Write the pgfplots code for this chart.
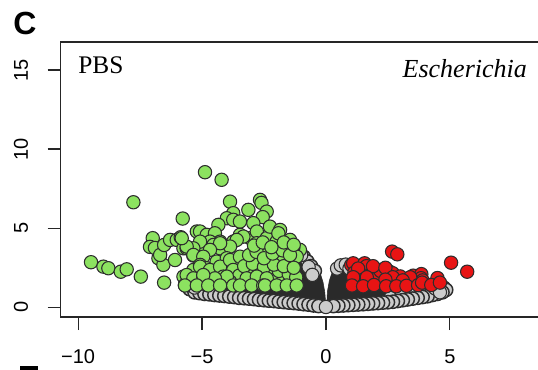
\documentclass[border=0pt]{standalone}
\usepackage{fontspec}
\setmainfont{Liberation Serif}
\setsansfont{Liberation Sans}
\usepackage{pgfplots}
\pgfplotsset{compat=1.18}
\definecolor{vgreen}{RGB}{140,226,96}
\definecolor{vred}{RGB}{232,20,20}
\definecolor{vgray}{RGB}{204,204,204}
\definecolor{vedge}{RGB}{45,45,45}
\definecolor{vdark}{RGB}{42,42,42}
\begin{document}
\begin{tikzpicture}
\useasboundingbox (0,0) rectangle (403.5pt,277.5pt);
\clip (0,0) rectangle (403.5pt,277.5pt);
\node[anchor=base west, inner sep=0pt, font=\sffamily\bfseries\fontsize{24}{24}\selectfont] at (9.75pt,251.5pt) {C};
\fill[black] (15pt,0pt) rectangle (28.5pt,3pt);
\begin{axis}[
  at={(45.4pt,39.75pt)}, anchor=south west,
  scale only axis, width=398.1pt, height=206.25pt,
  xmin=-10.71, xmax=10.71, ymin=-0.613, ymax=16.77,
  axis line style={line width=0.9pt, black!85},
  tick align=outside, major tick length=9.75pt,
  tick style={line width=0.9pt, black!85},
  xtick pos=lower, ytick pos=left,
  xtick={-10,-5,0,5}, xticklabels={−10,−5,0,5},
  ytick={0,5,10,15}, yticklabels={0,5,10,15},
  ticklabel style={font=\sffamily\fontsize{15}{15}\selectfont},
  yticklabel style={xshift=-11pt, rotate=90, anchor=south},
  xticklabel style={yshift=-11pt, anchor=north},
  mark size=5pt,
]
% gray (not significant), lower rows
\addplot[only marks, mark=*, mark options={fill=vgray, draw=vedge, line width=1.1pt}] coordinates {
(-5.4,1.3) (-5.2,1.15) (-5.0,1.1) (-4.8,1.05) (-4.6,1.0) (-4.4,0.95) (-4.2,0.9)
(-5.5,1.15) (-5.3,0.95) (-5.1,0.9) (-4.9,0.85) (-4.7,0.82) (-4.5,0.78) (-4.3,0.75) (-4.1,0.72) (-3.9,0.68) (-3.7,0.65) (-3.5,0.6) (-3.3,0.58) (-3.1,0.55) (-2.9,0.52) (-2.7,0.48) (-2.5,0.45) (-2.3,0.42) (-2.1,0.4) (-1.9,0.36) (-1.7,0.33) (-1.5,0.3) (-1.3,0.27) (-1.1,0.24) (-0.9,0.2) (-0.7,0.17) (-0.5,0.12) (-0.3,0.08)
(-0.9,3.2) (-0.75,2.9) (-0.6,2.6) (-0.45,2.3)
(4.75,1.25) (4.5,1.1) (4.2,1.0) (3.8,0.9) (3.4,0.8) (3.0,0.7) (2.6,0.6)
(4.85,1.1) (4.7,0.95) (4.5,0.85) (4.3,0.78) (4.1,0.7) (3.9,0.65) (3.7,0.6) (3.5,0.55) (3.3,0.5) (3.1,0.45) (2.9,0.4) (2.7,0.35) (2.5,0.32) (2.3,0.3) (2.1,0.27) (1.9,0.25) (1.7,0.22) (1.5,0.2) (1.3,0.18) (1.1,0.16) (0.9,0.14) (0.7,0.12) (0.5,0.1) (0.3,0.08)
};
% dense core of overlapping outlines
\addplot[fill=vdark, draw=vdark] coordinates {
(0,0.1) (-0.05,1.0) (-0.12,1.6) (-0.24,2.2) (-0.4,2.6) (-0.65,3.0) (-1.0,3.35) (-1.4,3.7) (-1.9,3.95) (-2.4,3.9) (-2.9,3.6) (-3.4,3.1) (-3.9,2.5) (-4.3,1.9) (-4.8,1.45) (-5.2,1.2)
(-5.2,0.88) (-4.5,0.74) (-3.5,0.57) (-2.5,0.42) (-1.5,0.27) (-0.9,0.17) (-0.5,0.09) (-0.2,0.05)
} -- cycle;
\addplot[fill=vdark, draw=vdark] coordinates {
(0.03,0.1) (0.06,1.0) (0.14,1.7) (0.25,2.2) (0.45,2.55) (0.75,2.8) (1.2,2.9) (2.0,2.65) (2.8,2.35) (3.5,2.1) (4.2,1.8) (4.6,1.5) (4.9,1.2)
(4.85,1.05) (4.5,0.82) (4.1,0.67) (3.7,0.57) (3.3,0.47) (2.9,0.37) (2.5,0.29) (1.9,0.22) (1.1,0.13) (0.5,0.07) (0.15,0.05)
} -- cycle;
% gray on top
\addplot[only marks, mark=*, mark options={fill=vgray, draw=vedge, line width=0.8pt}] coordinates {
(-1.0,3.3) (-0.7,2.55) (-0.55,2.05) (0.45,2.45) (0.6,2.65) (0.8,2.7) (0.95,2.45) (4.4,1.2) (4.6,0.95) (-5.3,1.25) (0,0.02)
};
% green (down)
\addplot[only marks, mark=*, mark options={fill=vgreen, draw=vedge, line width=0.8pt}] coordinates {
(-9.48,2.85) (-8.98,2.57) (-8.78,2.47) (-8.28,2.25) (-8.04,2.4) (-7.47,1.94) (-7.77,6.64) (-6.53,1.56) (-6.99,4.37) (-7.1,3.82) (-6.9,3.75) (-6.76,3.1) (-6.56,2.68) (-6.69,3.31) (-6.53,3.94) (-6.29,4.26) (-6.09,2.99) (-6.02,4.26) (-5.86,4.43) (-5.75,3.73) (-5.62,3.73) (-5.42,3.63) (-5.21,3.77) (-5.01,3.88) (-5.35,3.27) (-5.78,5.61) (-5.21,4.79) (-4.88,8.54) (-4.21,8.06) (-5.75,1.94) (-5.69,1.41) (-5.35,2.36) (-5.48,1.83) (-5.08,1.62) (-4.81,1.41)
(-3.87,6.68) (-2.66,6.79) (-2.6,6.6) (-3.13,6.16) (-2.39,6.05) (-3.74,5.95) (-2.55,5.7) (-4.0,5.63) (-3.74,5.53) (-4.34,5.21) (-2.93,5.32) (-3.47,5.42) (-5.08,4.79) (-4.81,4.58) (-4.48,4.68) (-4.27,4.15) (-4.68,4.15) (-5.08,4.15) (-5.35,3.73) (-5.62,3.84) (-5.82,4.37) (-5.35,3.31) (-4.54,3.94) (-4.27,3.73) (-3.74,4.15) (-3.47,4.58) (-3.06,4.37) (-2.79,4.79) (-2.39,4.37) (-2.26,5.1) (-1.85,4.89) (-1.45,4.26) (-1.99,4.15) (-2.79,4.05) (-1.05,3.63) (-1.32,3.73) (-1.58,3.42) (-1.18,3.2) (-3.33,4.47) (-3.6,4.26) (-3.87,3.84) (-4.27,4.05) (-4.68,3.63) (-4.95,3.2) (-1.92,4.68)
(-5.08,2.68) (-4.81,2.47) (-4.41,2.89) (-4.0,3.1) (-3.74,2.68) (-3.47,2.25) (-3.06,2.47) (-2.66,2.89) (-2.39,3.31) (-5.08,2.57) (-4.68,2.36) (-4.27,2.57) (-3.87,2.99) (-3.47,3.2) (-3.06,2.99) (-2.79,2.57) (-3.74,2.36) (-3.2,2.15) (-1.85,3.2)
(-3.6,1.7) (-3.3,1.6) (-2.9,1.65) (-2.6,1.7) (-2.2,1.65) (-1.8,1.7) (-1.4,1.65)
(-3.5,2.0) (-3.0,2.1) (-2.6,2.2) (-2.2,2.05) (-1.9,2.3) (-1.5,2.1) (-1.2,1.9)
(-3.3,2.6) (-2.95,2.75) (-2.5,2.55) (-2.1,2.7) (-1.7,2.6) (-1.3,2.5)
(-3.1,3.3) (-2.8,3.5) (-2.5,3.1) (-2.15,3.4) (-1.75,3.6) (-1.45,3.3)
(-2.9,3.9) (-2.55,4.1) (-2.2,3.8) (-1.7,4.1) (-1.3,3.95)
(-5.62,2.04) (-5.35,1.83) (-4.95,1.94) (-4.54,1.73) (-4.14,1.94) (-3.87,1.62) (-3.2,1.83) (-2.79,1.94) (-2.39,1.83) (-4.0,1.94) (-4.48,1.83) (-4.95,2.04)
(-5.69,1.38) (-5.21,1.38) (-4.75,1.38) (-4.27,1.38) (-3.74,1.38) (-3.47,1.38) (-3.0,1.38) (-2.53,1.38) (-2.46,1.38) (-1.99,1.38) (-1.58,1.38) (-1.18,1.38)
};
% red (up)
\addplot[only marks, mark=*, mark options={fill=vred, draw=vedge, line width=0.8pt}] coordinates {
(1.02,2.68) (1.1,2.78) (1.56,2.78) (1.64,2.6) (1.15,2.2) (1.96,2.47) (2.37,2.15) (2.58,2.24) (2.7,2.15) (3.44,1.88) (3.52,2.0) (3.85,2.1) (3.84,1.84) (1.73,2.0) (1.3,2.45) (2.1,1.9) (3.0,1.95) (3.9,1.7) (1.4,1.7) (2.2,2.3)
(1.9,2.6) (2.4,2.5) (1.1,1.9) (1.65,1.9) (2.7,1.9) (3.4,1.9) (4.5,1.85) (3.1,1.7) (2.4,1.75)
(1.05,1.38) (1.5,1.33) (1.94,1.41) (2.43,1.33) (2.84,1.33) (3.25,1.36) (3.72,1.4) (3.88,1.56) (4.25,1.41) (4.6,1.56)
(2.67,3.52) (2.88,3.35) (5.05,2.82) (5.7,2.25)
};
\node[anchor=base west, inner sep=0pt, font=\fontsize{19}{19}\selectfont] at (axis cs:-10,14.75) {PBS};
\node[anchor=base east, inner sep=0pt, font=\itshape\fontsize{19.5}{19.5}\selectfont] at (axis cs:8.12,14.5) {Escherichia};
\end{axis}
\end{tikzpicture}
\end{document}
